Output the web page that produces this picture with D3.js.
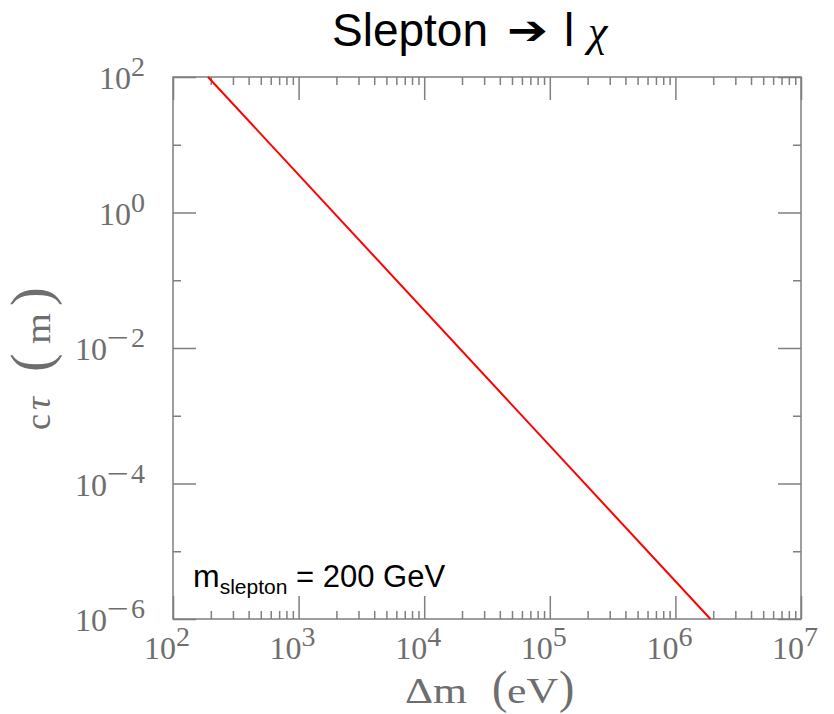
<!DOCTYPE html>
<html><head><meta charset="utf-8">
<script src="https://cdn.jsdelivr.net/npm/d3@7"></script>
<style>html,body{margin:0;padding:0;background:#fff}text{white-space:pre}</style>
</head><body>
<svg id="c" width="834" height="714"></svg>
<script>
// ---- data ----
const deltaM = [190, 1.9e6];          // eV
const ctau = [100, 1e-6];             // m
const xMajorTicks = [1e2, 1e3, 1e4, 1e5, 1e6, 1e7];
const xTickExponents = ["2", "3", "4", "5", "6", "7"];
const yDecadeTicks = [1e2, 1e1, 1e0, 1e-1, 1e-2, 1e-3, 1e-4, 1e-5, 1e-6];
const yLabelTicks = [1e2, 1e0, 1e-2, 1e-4, 1e-6];
const yTickExponents = ["2", "0", "\u22122", "\u22124", "\u22126"];
const titleText = ["Slepton", "\u2794", "l", "\u03c7"];
const noteText = ["m", "slepton", " = 200 GeV"];

// ---- layout ----
const L = 173, R = 801, T = 77, B = 619;
const grey = "#7f7f7f", labelGrey = "#6e6e6e";
const svg = d3.select("#c");

const x = d3.scaleLog().domain([1e2, 1e7]).range([L, R]);
const y = d3.scaleLog().domain([1e-6, 1e2]).range([B, T]);

const xMinor = x.ticks().filter(v => !xMajorTicks.some(m => Math.abs(m - v) / m < 1e-9));
const yMajor = yLabelTicks;
const yMinor = yDecadeTicks.filter(v => !yLabelTicks.includes(v));

function styleAxis(g) {
  g.select(".domain").remove();
  g.selectAll("line").attr("stroke", grey).attr("stroke-width", 1.5);
}
// bottom (ticks inward = up)
svg.append("g").attr("transform", `translate(0,${B})`)
  .call(d3.axisTop(x).tickValues(xMajorTicks).tickSize(23).tickSizeOuter(0).tickFormat("")).call(styleAxis);
svg.append("g").attr("transform", `translate(0,${B})`)
  .call(d3.axisTop(x).tickValues(xMinor).tickSize(8).tickSizeOuter(0).tickFormat("")).call(styleAxis);
// top
svg.append("g").attr("transform", `translate(0,${T})`)
  .call(d3.axisBottom(x).tickValues(xMajorTicks).tickSize(23).tickSizeOuter(0).tickFormat("")).call(styleAxis);
svg.append("g").attr("transform", `translate(0,${T})`)
  .call(d3.axisBottom(x).tickValues(xMinor).tickSize(8).tickSizeOuter(0).tickFormat("")).call(styleAxis);
// left
svg.append("g").attr("transform", `translate(${L},0)`)
  .call(d3.axisRight(y).tickValues(yMajor).tickSize(23).tickSizeOuter(0).tickFormat("")).call(styleAxis);
svg.append("g").attr("transform", `translate(${L},0)`)
  .call(d3.axisRight(y).tickValues(yMinor).tickSize(8).tickSizeOuter(0).tickFormat("")).call(styleAxis);
// right
svg.append("g").attr("transform", `translate(${R},0)`)
  .call(d3.axisLeft(y).tickValues(yMajor).tickSize(23).tickSizeOuter(0).tickFormat("")).call(styleAxis);
svg.append("g").attr("transform", `translate(${R},0)`)
  .call(d3.axisLeft(y).tickValues(yMinor).tickSize(8).tickSizeOuter(0).tickFormat("")).call(styleAxis);

// frame
svg.append("rect").attr("x", L).attr("y", T).attr("width", R - L).attr("height", B - T)
  .attr("fill", "none").attr("stroke", grey).attr("stroke-width", 1.5);

// line
const line = d3.line().x(d => x(d[0])).y(d => y(d[1]));
svg.append("path").datum(deltaM.map((d, i) => [d, ctau[i]]))
  .attr("d", line).attr("fill", "none").attr("stroke", "#ff0000").attr("stroke-width", 2);

// tick labels
const serif = "'Liberation Serif', 'Times New Roman', serif";
xMajorTicks.forEach((v, i) => {
  const t = svg.append("text").attr("x", x(v) - 6).attr("y", B + 40)
    .attr("text-anchor", "middle").attr("font-family", serif).attr("fill", labelGrey);
  t.append("tspan").attr("font-size", 32).text("10");
  t.append("tspan").attr("font-size", 28).attr("dy", -13).text(xTickExponents[i]);
});
yLabelTicks.forEach((v, i) => {
  const t = svg.append("text").attr("x", 145).attr("y", y(v) + 12)
    .attr("text-anchor", "end").attr("font-family", serif).attr("fill", labelGrey);
  t.append("tspan").attr("font-size", 32).text("10");
  const e = yTickExponents[i];
  if (e[0] === "\u2212") {
    t.append("tspan").attr("font-size", 28).attr("dy", -13)
      .attr("textLength", 22).attr("lengthAdjust", "spacingAndGlyphs").text("\u2212");
    t.append("tspan").attr("font-size", 28).attr("dx", 2).text(e.slice(1));
  } else {
    t.append("tspan").attr("font-size", 28).attr("dy", -13).text(e);
  }
});

// axis titles
const xl = svg.append("text").attr("y", 703).attr("font-family", serif).attr("fill", labelGrey);
xl.append("tspan").attr("x", 405).attr("font-size", 35).attr("textLength", 62).attr("lengthAdjust", "spacingAndGlyphs").text("\u0394m");
xl.append("tspan").attr("x", 492).attr("font-size", 46).text("(");
xl.append("tspan").attr("x", 507).attr("font-size", 35).attr("textLength", 51).attr("lengthAdjust", "spacingAndGlyphs").text("eV");
xl.append("tspan").attr("x", 559).attr("font-size", 46).text(")");

const yl = svg.append("text").attr("transform", "translate(50,430) rotate(-90)")
  .attr("font-family", serif).attr("fill", labelGrey);
yl.append("tspan").attr("x", 0).attr("font-size", 36).text("c");
yl.append("tspan").attr("x", 20).attr("font-size", 36).attr("font-style", "italic").text("\u03c4");
yl.append("tspan").attr("x", 58).attr("font-size", 56).text("(");
yl.append("tspan").attr("x", 86).attr("font-size", 36).attr("textLength", 31).attr("lengthAdjust", "spacingAndGlyphs").text("m");
yl.append("tspan").attr("x", 124).attr("font-size", 56).text(")");

// title
const tt = svg.append("text").attr("y", 46).attr("fill", "#000");
tt.append("tspan").attr("x", 332).attr("font-family", "'Liberation Sans', Arial, sans-serif").attr("font-size", 46).text(titleText[0]);
tt.append("tspan").attr("x", 507).attr("dy", -2).attr("font-family", "'DejaVu Sans', sans-serif").attr("font-size", 40).attr("textLength", 41).attr("lengthAdjust", "spacingAndGlyphs").text(titleText[1]);
tt.append("tspan").attr("x", 564).attr("dy", 2).attr("font-family", "'Liberation Sans', Arial, sans-serif").attr("font-size", 46).text(titleText[2]);
tt.append("tspan").attr("x", 588).attr("font-family", serif).attr("font-style", "italic").attr("font-size", 44).text(titleText[3]);

// note
const nt = svg.append("text").attr("x", 193).attr("y", 587).attr("fill", "#000")
  .attr("font-family", "'Liberation Sans', Arial, sans-serif");
nt.append("tspan").attr("font-size", 32).text(noteText[0]);
nt.append("tspan").attr("font-size", 21).attr("dy", 7).text(noteText[1]);
nt.append("tspan").attr("font-size", 31).attr("dy", -7).text(noteText[2]);
</script>
</body></html>
